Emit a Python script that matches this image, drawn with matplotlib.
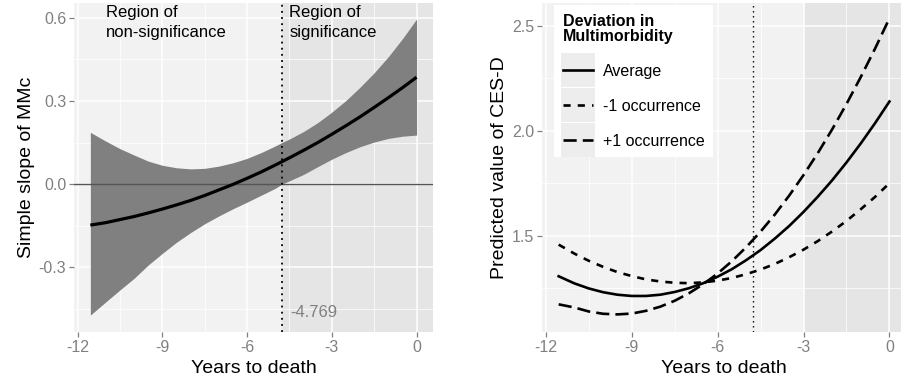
import matplotlib
matplotlib.use('Agg')
import matplotlib.pyplot as plt
from matplotlib.patches import Rectangle
from matplotlib.legend_handler import HandlerLine2D

# left panel: simple slope of MMc with confidence band
years_slope = [-11.55, -11, -10.5, -10, -9.5, -9, -8.5, -8, -7.5, -7, -6.5, -6, -5.5, -5,
               -4.769, -4.5, -4, -3.5, -3, -2.5, -2, -1.5, -1, -0.5, 0]
slope = [-0.148, -0.139, -0.128, -0.117, -0.104, -0.090, -0.075, -0.059, -0.041, -0.021,
         -0.001, 0.021, 0.044, 0.069, 0.081, 0.095, 0.122, 0.150, 0.180, 0.211, 0.243,
         0.277, 0.312, 0.348, 0.386]
slope_upper = [0.187, 0.155, 0.128, 0.105, 0.083, 0.068, 0.059, 0.055, 0.057, 0.065,
               0.077, 0.093, 0.114, 0.138, 0.150, 0.163, 0.190, 0.222, 0.260, 0.302,
               0.350, 0.402, 0.460, 0.525, 0.596]
slope_lower = [-0.473, -0.425, -0.382, -0.340, -0.292, -0.250, -0.210, -0.175, -0.143,
               -0.115, -0.089, -0.065, -0.040, -0.015, 0.000, 0.012, 0.035, 0.063, 0.090,
               0.114, 0.135, 0.152, 0.165, 0.173, 0.177]
jn_point = -4.769

# right panel: predicted CES-D
years_pred = [-11.55, -11, -10.5, -10, -9.5, -9, -8.5, -8, -7.5, -7, -6.5, -6, -5.5, -5,
              -4.5, -4, -3.5, -3, -2.5, -2, -1.5, -1, -0.5, 0]
pred_average = [1.306, 1.272, 1.248, 1.230, 1.218, 1.212, 1.212, 1.218, 1.231, 1.249,
                1.273, 1.304, 1.340, 1.383, 1.431, 1.486, 1.546, 1.613, 1.686, 1.764,
                1.849, 1.940, 2.037, 2.140]
pred_minus1 = [1.457, 1.414, 1.380, 1.351, 1.326, 1.307, 1.291, 1.281, 1.275, 1.273,
               1.277, 1.285, 1.298, 1.316, 1.338, 1.365, 1.397, 1.433, 1.474, 1.520,
               1.570, 1.626, 1.685, 1.750]
pred_plus1 = [1.172, 1.157, 1.138, 1.127, 1.124, 1.128, 1.141, 1.161, 1.189, 1.225,
              1.268, 1.319, 1.378, 1.445, 1.519, 1.601, 1.691, 1.789, 1.894, 2.007,
              2.128, 2.257, 2.393, 2.537]
series_labels = ['Average', '-1 occurrence', '+1 occurrence']

x_ticks = [-12, -9, -6, -3, 0]
x_minor = [-10.5, -7.5, -4.5, -1.5]

LIGHT_BG = '#F2F2F2'
DARK_BG = '#E5E5E5'
KEY_BG = '#EDEDED'
TICK_GREY = '#808080'


class KeyBoxHandler(HandlerLine2D):
    # ggplot-like grey box behind each legend key
    def create_artists(self, legend, orig_handle, xdescent, ydescent,
                       width, height, fontsize, trans):
        artists = super().create_artists(legend, orig_handle, xdescent, ydescent,
                                         width, height, fontsize, trans)
        ex, ey = 1.3, 8.4
        box = Rectangle((-xdescent - ex, -ydescent - ey), width + 2 * ex, height + 2 * ey,
                        facecolor=KEY_BG, edgecolor='none', transform=trans)
        return [box] + list(artists)


def style_axes(ax, yticks, yminor, xlim, ylim):
    ax.set_facecolor(LIGHT_BG)
    ax.set_xlim(xlim)
    ax.set_ylim(ylim)
    ax.set_xticks(x_ticks)
    ax.set_xticks(x_minor, minor=True)
    ax.set_yticks(yticks)
    ax.set_yticks(yminor, minor=True)
    ax.set_axisbelow(True)
    ax.grid(which='major', color='white', linewidth=1.1)
    ax.grid(which='minor', color='white', linewidth=0.5)
    for s in ax.spines.values():
        s.set_visible(False)
    ax.tick_params(which='major', length=3.5, width=0.9, color=TICK_GREY,
                   labelcolor=TICK_GREY, labelsize=11.5, pad=2)
    ax.tick_params(which='minor', length=0)
    ax.set_xlabel('Years to death', fontsize=14, labelpad=4)


def main():
    plt.rcParams['font.family'] = ['Liberation Sans', 'DejaVu Sans']
    fig = plt.figure(figsize=(9.01, 3.9), dpi=100)
    fig.patch.set_facecolor('white')

    xlim = (-12.13, 0.58)

    # ---- left panel
    ax1 = fig.add_axes([0.0821, 0.1487, 0.3984, 0.8436])
    style_axes(ax1, [-0.3, 0.0, 0.3, 0.6], [-0.45, -0.15, 0.15, 0.45], xlim, (-0.534, 0.654))
    ax1.set_yticklabels(['-0.3', '0.0', '0.3', '0.6'])
    ax1.set_xticklabels([str(t) for t in x_ticks])
    ax1.axvspan(jn_point, xlim[1], color=DARK_BG, zorder=0.1, lw=0)
    ax1.fill_between(years_slope, slope_lower, slope_upper, color='#808080', lw=0, zorder=2)
    ax1.axhline(0, color='#555555', lw=1.0, zorder=3)
    ax1.plot(years_slope, slope, color='black', lw=2.3, zorder=4, solid_capstyle='butt')
    ax1.axvline(jn_point, color='black', lw=1.3, ls=(0, (1, 2.4)), zorder=5)
    ax1.text(-11.0, 0.648, 'Region of\nnon-significance', fontsize=12, ha='left', va='top',
             linespacing=1.45, zorder=6)
    ax1.text(-4.5, 0.648, 'Region of\nsignificance', fontsize=12, ha='left', va='top',
             linespacing=1.45, zorder=6)
    ax1.text(jn_point + 0.3, -0.465, str(jn_point), fontsize=12, color=TICK_GREY,
             ha='left', va='center', zorder=6)
    ax1.set_ylabel('Simple slope of MMc', fontsize=14, labelpad=3)

    # ---- right panel
    ax2 = fig.add_axes([0.6016, 0.1487, 0.404, 0.8436])
    style_axes(ax2, [1.5, 2.0, 2.5], [1.25, 1.75, 2.25], xlim, (1.04, 2.61))
    ax2.set_xticklabels([str(t) for t in x_ticks])
    ax2.axvspan(-3, xlim[1], color=DARK_BG, zorder=0.1, lw=0)
    ax2.axvline(jn_point, color='black', lw=1.0, ls=(0, (1, 2.6)), zorder=2)
    l_avg, = ax2.plot(years_pred, pred_average, color='black', lw=1.9, zorder=3,
                      label=series_labels[0])
    l_min, = ax2.plot(years_pred, pred_minus1, color='black', lw=1.9, zorder=3,
                      dashes=(2.7, 2.7), label=series_labels[1])
    l_plus, = ax2.plot(years_pred, pred_plus1, color='black', lw=1.9, zorder=3,
                       dashes=(5.0, 2.3), label=series_labels[2])
    ax2.set_ylabel('Predicted value of CES-D', fontsize=14, labelpad=3)

    leg = ax2.legend(handles=[l_avg, l_min, l_plus], title='Deviation in\nMultimorbidity',
                     loc='upper left', bbox_to_anchor=(0.033, 0.994), borderaxespad=0,
                     frameon=True, fancybox=False, facecolor='white', edgecolor='none',
                     framealpha=1, fontsize=11.5, handlelength=1.9, handletextpad=0.6,
                     labelspacing=1.25, borderpad=0.55, alignment='left',
                     title_fontproperties={'weight': 'bold', 'size': 11.5},
                     handler_map={l_avg: KeyBoxHandler(), l_min: KeyBoxHandler(),
                                  l_plus: KeyBoxHandler()})
    leg.get_title().set_linespacing(1.0)
    leg.set_zorder(10)

    fig.savefig('out.png', dpi=100, facecolor='white')
    plt.close(fig)
    return None


if __name__ == '__main__':
    main()
